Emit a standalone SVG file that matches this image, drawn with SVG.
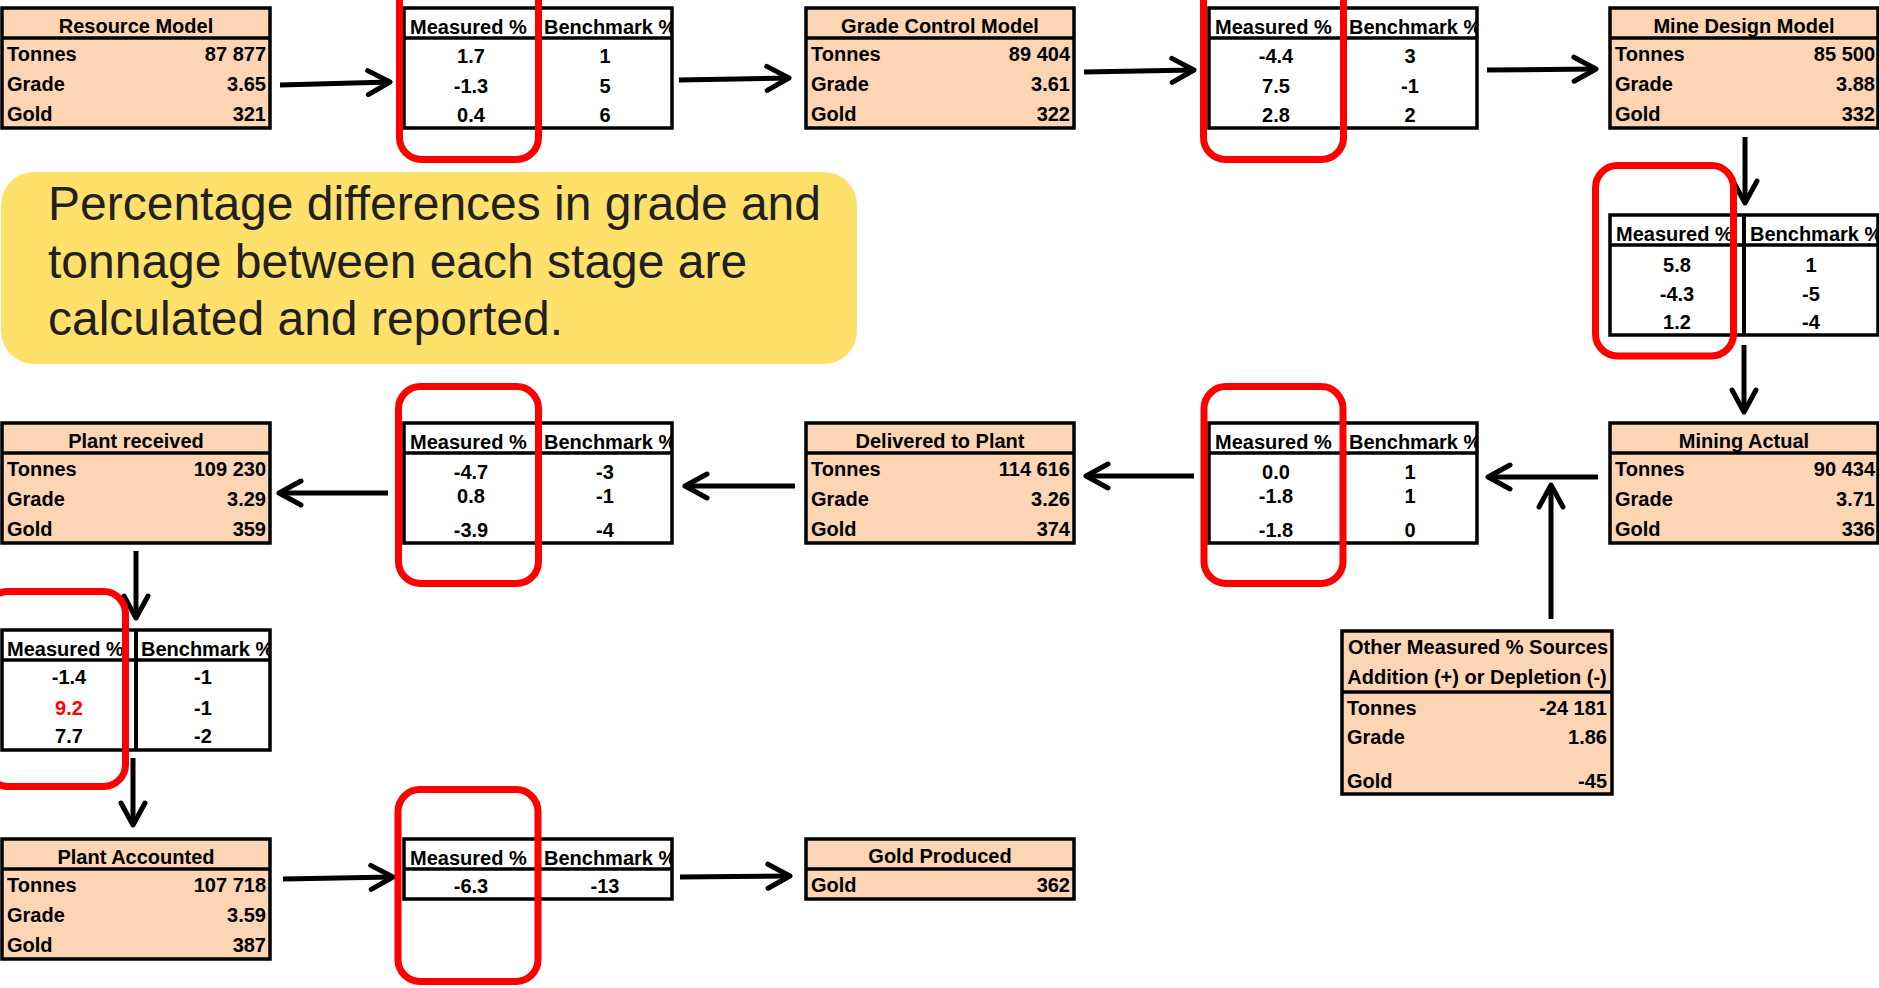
<svg xmlns="http://www.w3.org/2000/svg" width="1879" height="988" viewBox="0 0 1879 988">
<style>
.t{font-family:"Liberation Sans",Arial,Helvetica,sans-serif;font-weight:bold;font-size:20px;fill:#000}
.m{text-anchor:middle}
.e{text-anchor:end}
.nb{fill:#FCD5B4;stroke:#000;stroke-width:3.5}
.tb{fill:#FFFFFF;stroke:#000;stroke-width:3.5}
.sep{stroke:#000;stroke-width:3.5}
.div{stroke:#000;stroke-width:4}
.hl{fill:none;stroke:#FF0000;stroke-width:7}
.conn{stroke:#000;stroke-width:5;fill:none;marker-end:url(#ah)}
.call{font-family:"Liberation Sans",Arial,Helvetica,sans-serif;font-size:48px;fill:#231F20}
</style>
<defs>
<marker id="ah" markerUnits="userSpaceOnUse" markerWidth="40" markerHeight="40" viewBox="-30 -20 40 40" refX="0" refY="0" orient="auto" overflow="visible">
<path d="M-22,-12 L0,0 L-22,12" fill="none" stroke="#000" stroke-width="5" stroke-linecap="round" stroke-linejoin="round"/>
</marker>
<clipPath id="tclip"><rect x="0" y="0" width="268" height="120"/></clipPath>
</defs>
<rect width="1879" height="988" fill="#FFFFFF"/>

<g id="connectors">
<line class="conn" x1="280" y1="85" x2="390" y2="82"/>
<line class="conn" x1="679" y1="80" x2="789" y2="78"/>
<line class="conn" x1="1084" y1="72" x2="1194" y2="70"/>
<line class="conn" x1="1487" y1="70" x2="1596" y2="69"/>
<line class="conn" x1="1745" y1="137" x2="1745" y2="203"/>
<line class="conn" x1="1744" y1="345" x2="1744" y2="412"/>
<line class="conn" x1="1598" y1="477" x2="1488" y2="477"/>
<line class="conn" x1="1551" y1="619" x2="1551" y2="485"/>
<line class="conn" x1="1194" y1="476" x2="1086" y2="476"/>
<line class="conn" x1="795" y1="486" x2="685" y2="486"/>
<line class="conn" x1="388" y1="493" x2="279" y2="493"/>
<line class="conn" x1="136" y1="551" x2="136" y2="618"/>
<line class="conn" x1="133" y1="758" x2="133" y2="825"/>
<line class="conn" x1="283" y1="879" x2="393" y2="877"/>
<line class="conn" x1="680" y1="877" x2="790" y2="876"/>
</g>

<g id="callout">
<rect x="1" y="172" width="856" height="192" rx="33" ry="33" fill="#FEE16B"/>
<text class="call" x="48" y="220">Percentage differences in grade and</text>
<text class="call" x="48" y="278">tonnage between each stage are</text>
<text class="call" x="48" y="335">calculated and reported.</text>
</g>

<g id="resource-model" transform="translate(2,8)">
<rect class="nb" x="0" y="0" width="268" height="120"/>
<line class="sep" x1="0" y1="30" x2="268" y2="30"/>
<text class="t m" x="134" y="25">Resource Model</text>
<text class="t" x="5" y="53">Tonnes</text><text class="t e" x="264" y="53">87 877</text>
<text class="t" x="5" y="83">Grade</text><text class="t e" x="264" y="83">3.65</text>
<text class="t" x="5" y="113">Gold</text><text class="t e" x="264" y="113">321</text>
</g>

<g id="table-1" transform="translate(404,8)">
<rect class="tb" x="0" y="0" width="268" height="120"/>
<g clip-path="url(#tclip)">
<text class="t" x="6" y="26">Measured %</text><text class="t" x="140" y="26">Benchmark %</text>
</g>
<line class="sep" x1="0" y1="30" x2="268" y2="30"/>
<line class="div" x1="134" y1="0" x2="134" y2="120"/>
<text class="t m" x="67" y="55">1.7</text><text class="t m" x="201" y="55">1</text>
<text class="t m" x="67" y="85">-1.3</text><text class="t m" x="201" y="85">5</text>
<text class="t m" x="67" y="114">0.4</text><text class="t m" x="201" y="114">6</text>
</g>

<g id="grade-control-model" transform="translate(806,8)">
<rect class="nb" x="0" y="0" width="268" height="120"/>
<line class="sep" x1="0" y1="30" x2="268" y2="30"/>
<text class="t m" x="134" y="25">Grade Control Model</text>
<text class="t" x="5" y="53">Tonnes</text><text class="t e" x="264" y="53">89 404</text>
<text class="t" x="5" y="83">Grade</text><text class="t e" x="264" y="83">3.61</text>
<text class="t" x="5" y="113">Gold</text><text class="t e" x="264" y="113">322</text>
</g>

<g id="table-2" transform="translate(1209,8)">
<rect class="tb" x="0" y="0" width="268" height="120"/>
<g clip-path="url(#tclip)">
<text class="t" x="6" y="26">Measured %</text><text class="t" x="140" y="26">Benchmark %</text>
</g>
<line class="sep" x1="0" y1="30" x2="268" y2="30"/>
<line class="div" x1="134" y1="0" x2="134" y2="120"/>
<text class="t m" x="67" y="55">-4.4</text><text class="t m" x="201" y="55">3</text>
<text class="t m" x="67" y="85">7.5</text><text class="t m" x="201" y="85">-1</text>
<text class="t m" x="67" y="114">2.8</text><text class="t m" x="201" y="114">2</text>
</g>

<g id="mine-design-model" transform="translate(1610,8)">
<rect class="nb" x="0" y="0" width="268" height="120"/>
<line class="sep" x1="0" y1="30" x2="268" y2="30"/>
<text class="t m" x="134" y="25">Mine Design Model</text>
<text class="t" x="5" y="53">Tonnes</text><text class="t e" x="265" y="53">85 500</text>
<text class="t" x="5" y="83">Grade</text><text class="t e" x="265" y="83">3.88</text>
<text class="t" x="5" y="113">Gold</text><text class="t e" x="265" y="113">332</text>
</g>

<g id="table-3" transform="translate(1610,215)">
<rect class="tb" x="0" y="0" width="268" height="120"/>
<g clip-path="url(#tclip)">
<text class="t" x="6" y="26">Measured %</text><text class="t" x="140" y="26">Benchmark %</text>
</g>
<line class="sep" x1="0" y1="30" x2="268" y2="30"/>
<line class="div" x1="134" y1="0" x2="134" y2="120"/>
<text class="t m" x="67" y="57">5.8</text><text class="t m" x="201" y="57">1</text>
<text class="t m" x="67" y="86">-4.3</text><text class="t m" x="201" y="86">-5</text>
<text class="t m" x="67" y="114">1.2</text><text class="t m" x="201" y="114">-4</text>
</g>

<g id="mining-actual" transform="translate(1610,423)">
<rect class="nb" x="0" y="0" width="268" height="120"/>
<line class="sep" x1="0" y1="30" x2="268" y2="30"/>
<text class="t m" x="134" y="25">Mining Actual</text>
<text class="t" x="5" y="53">Tonnes</text><text class="t e" x="265" y="53">90 434</text>
<text class="t" x="5" y="83">Grade</text><text class="t e" x="265" y="83">3.71</text>
<text class="t" x="5" y="113">Gold</text><text class="t e" x="265" y="113">336</text>
</g>

<g id="table-5" transform="translate(1209,423)">
<rect class="tb" x="0" y="0" width="268" height="120"/>
<g clip-path="url(#tclip)">
<text class="t" x="6" y="26">Measured %</text><text class="t" x="140" y="26">Benchmark %</text>
</g>
<line class="sep" x1="0" y1="30" x2="268" y2="30"/>
<line class="div" x1="134" y1="0" x2="134" y2="120"/>
<text class="t m" x="67" y="56">0.0</text><text class="t m" x="201" y="56">1</text>
<text class="t m" x="67" y="80">-1.8</text><text class="t m" x="201" y="80">1</text>
<text class="t m" x="67" y="114">-1.8</text><text class="t m" x="201" y="114">0</text>
</g>

<g id="delivered-to-plant" transform="translate(806,423)">
<rect class="nb" x="0" y="0" width="268" height="120"/>
<line class="sep" x1="0" y1="30" x2="268" y2="30"/>
<text class="t m" x="134" y="25">Delivered to Plant</text>
<text class="t" x="5" y="53">Tonnes</text><text class="t e" x="264" y="53">114 616</text>
<text class="t" x="5" y="83">Grade</text><text class="t e" x="264" y="83">3.26</text>
<text class="t" x="5" y="113">Gold</text><text class="t e" x="264" y="113">374</text>
</g>

<g id="table-4" transform="translate(404,423)">
<rect class="tb" x="0" y="0" width="268" height="120"/>
<g clip-path="url(#tclip)">
<text class="t" x="6" y="26">Measured %</text><text class="t" x="140" y="26">Benchmark %</text>
</g>
<line class="sep" x1="0" y1="30" x2="268" y2="30"/>
<line class="div" x1="134" y1="0" x2="134" y2="120"/>
<text class="t m" x="67" y="56">-4.7</text><text class="t m" x="201" y="56">-3</text>
<text class="t m" x="67" y="80">0.8</text><text class="t m" x="201" y="80">-1</text>
<text class="t m" x="67" y="114">-3.9</text><text class="t m" x="201" y="114">-4</text>
</g>

<g id="plant-received" transform="translate(2,423)">
<rect class="nb" x="0" y="0" width="268" height="120"/>
<line class="sep" x1="0" y1="30" x2="268" y2="30"/>
<text class="t m" x="134" y="25">Plant received</text>
<text class="t" x="5" y="53">Tonnes</text><text class="t e" x="264" y="53">109 230</text>
<text class="t" x="5" y="83">Grade</text><text class="t e" x="264" y="83">3.29</text>
<text class="t" x="5" y="113">Gold</text><text class="t e" x="264" y="113">359</text>
</g>

<g id="table-6" transform="translate(2,630)">
<rect class="tb" x="0" y="0" width="268" height="120"/>
<g clip-path="url(#tclip)">
<text class="t" x="5" y="26">Measured %</text><text class="t" x="139" y="26">Benchmark %</text>
</g>
<line class="sep" x1="0" y1="30" x2="268" y2="30"/>
<line class="div" x1="134" y1="0" x2="134" y2="120"/>
<text class="t m" x="67" y="54">-1.4</text><text class="t m" x="201" y="54">-1</text>
<text class="t m" x="67" y="85" style="fill:#FF0000">9.2</text><text class="t m" x="201" y="85">-1</text>
<text class="t m" x="67" y="113">7.7</text><text class="t m" x="201" y="113">-2</text>
</g>

<g id="plant-accounted" transform="translate(2,839)">
<rect class="nb" x="0" y="0" width="268" height="120"/>
<line class="sep" x1="0" y1="30" x2="268" y2="30"/>
<text class="t m" x="134" y="25">Plant Accounted</text>
<text class="t" x="5" y="53">Tonnes</text><text class="t e" x="264" y="53">107 718</text>
<text class="t" x="5" y="83">Grade</text><text class="t e" x="264" y="83">3.59</text>
<text class="t" x="5" y="113">Gold</text><text class="t e" x="264" y="113">387</text>
</g>

<g id="table-7" transform="translate(404,839)">
<rect class="tb" x="0" y="0" width="268" height="60"/>
<g clip-path="url(#tclip)">
<text class="t" x="6" y="26">Measured %</text><text class="t" x="140" y="26">Benchmark %</text>
</g>
<line class="sep" x1="0" y1="30" x2="268" y2="30"/>
<line class="div" x1="134" y1="0" x2="134" y2="60"/>
<text class="t m" x="67" y="54">-6.3</text><text class="t m" x="201" y="54">-13</text>
</g>

<g id="gold-produced" transform="translate(806,839)">
<rect class="nb" x="0" y="0" width="268" height="60"/>
<line class="sep" x1="0" y1="30" x2="268" y2="30"/>
<text class="t m" x="134" y="24">Gold Produced</text>
<text class="t" x="5" y="53">Gold</text><text class="t e" x="264" y="53">362</text>
</g>

<g id="other-sources" transform="translate(1342,631)">
<rect class="nb" x="0" y="0" width="270" height="163"/>
<line class="sep" x1="0" y1="61" x2="270" y2="61"/>
<text class="t m" x="136" y="23">Other Measured % Sources</text>
<text class="t m" x="135" y="53">Addition (+) or Depletion (-)</text>
<text class="t" x="5" y="84">Tonnes</text><text class="t e" x="265" y="84">-24 181</text>
<text class="t" x="5" y="113">Grade</text><text class="t e" x="265" y="113">1.86</text>
<text class="t" x="5" y="157">Gold</text><text class="t e" x="265" y="157">-45</text>
</g>

<g id="highlights">
<rect class="hl" x="399.5" y="-40" width="139" height="199.5" rx="22" ry="22"/>
<rect class="hl" x="1203.5" y="-40" width="140" height="199.5" rx="22" ry="22"/>
<rect class="hl" x="1595.5" y="165.5" width="138" height="190.5" rx="22" ry="22"/>
<rect class="hl" x="398.5" y="386.5" width="140" height="197" rx="22" ry="22"/>
<rect class="hl" x="1204" y="386.5" width="139" height="197" rx="22" ry="22"/>
<rect class="hl" x="-14" y="591.5" width="139.5" height="195" rx="22" ry="22"/>
<rect class="hl" x="398" y="789.5" width="140" height="192" rx="22" ry="22"/>
</g>
</svg>
